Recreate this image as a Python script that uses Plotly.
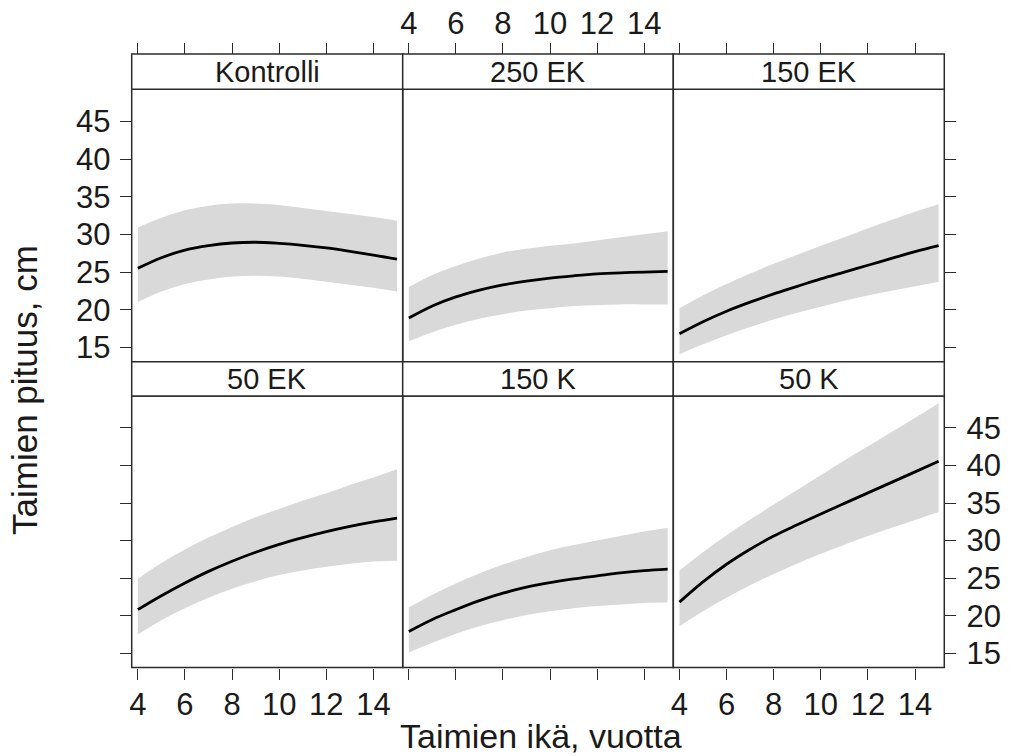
import plotly.graph_objects as go

# ---------------- data ----------------
ages = [4, 5, 6, 7, 8, 9, 10, 11, 12, 13, 14, 15]
panels = ["Kontrolli", "250 EK", "150 EK", "50 EK", "150 K", "50 K"]

kontrolli_fit = [25.5, 26.9, 27.9, 28.5, 28.85, 28.95, 28.8, 28.55, 28.2, 27.75, 27.25, 26.7]
kontrolli_hi = [30.9, 32.2, 33.2, 33.8, 34.1, 34.1, 33.9, 33.5, 33.1, 32.7, 32.3, 31.8]
kontrolli_lo = [21.0, 22.4, 23.4, 24.0, 24.4, 24.5, 24.4, 24.1, 23.7, 23.3, 22.9, 22.4]

ek250_fit = [18.9, 20.5, 21.7, 22.6, 23.3, 23.8, 24.2, 24.5, 24.75, 24.9, 25.0, 25.1]
ek250_hi = [23.0, 24.6, 25.8, 26.8, 27.6, 28.1, 28.5, 28.8, 29.2, 29.6, 30.0, 30.4]
ek250_lo = [15.8, 17.0, 18.0, 18.8, 19.4, 19.9, 20.2, 20.5, 20.6, 20.7, 20.7, 20.7]

ek150_fit = [16.8, 18.4, 19.8, 21.0, 22.1, 23.1, 24.1, 25.0, 25.9, 26.8, 27.7, 28.5]
ek150_hi = [20.2, 21.9, 23.4, 24.8, 26.1, 27.3, 28.5, 29.6, 30.8, 31.9, 33.0, 34.0]
ek150_lo = [14.1, 15.4, 16.6, 17.7, 18.7, 19.6, 20.4, 21.2, 21.9, 22.5, 23.1, 23.7]

ek50_fit = [20.8, 22.65, 24.35, 25.9, 27.25, 28.45, 29.5, 30.4, 31.2, 31.9, 32.5, 33.0]
ek50_hi = [24.9, 27.0, 28.8, 30.4, 31.8, 33.1, 34.2, 35.3, 36.3, 37.4, 38.4, 39.5]
ek50_lo = [17.5, 19.4, 21.0, 22.4, 23.6, 24.6, 25.4, 26.0, 26.5, 26.9, 27.2, 27.3]

k150_fit = [17.9, 19.5, 20.8, 22.0, 23.0, 23.8, 24.4, 24.9, 25.3, 25.7, 26.0, 26.2]
k150_hi = [21.1, 22.8, 24.3, 25.6, 26.8, 27.8, 28.7, 29.4, 30.0, 30.6, 31.2, 31.7]
k150_lo = [15.1, 16.4, 17.6, 18.6, 19.4, 20.1, 20.6, 21.0, 21.3, 21.5, 21.7, 21.75]

k50_fit = [21.8, 24.5, 26.85, 28.85, 30.6, 32.1, 33.55, 34.95, 36.35, 37.75, 39.15, 40.55]
k50_hi = [26.0, 28.45, 30.7, 32.8, 34.8, 36.75, 38.7, 40.65, 42.55, 44.45, 46.35, 48.3]
k50_lo = [18.6, 20.6, 22.4, 24.05, 25.55, 26.95, 28.25, 29.45, 30.6, 31.7, 32.75, 33.8]

x_ticks = [4, 6, 8, 10, 12, 14]
y_ticks = [15, 20, 25, 30, 35, 40, 45]
x_title = "Taimien ikä, vuotta"
y_title = "Taimien pituus, cm"

series = [
    (kontrolli_fit, kontrolli_lo, kontrolli_hi),
    (ek250_fit, ek250_lo, ek250_hi),
    (ek150_fit, ek150_lo, ek150_hi),
    (ek50_fit, ek50_lo, ek50_hi),
    (k150_fit, k150_lo, k150_hi),
    (k50_fit, k50_lo, k50_hi),
]

# ---------------- layout geometry (pixels) ----------------
W, H = 1012, 756
col_edges = [131.7, 402.7, 673.3, 944.3]
rows = [  # (strip_top, panel_top, panel_bottom)
    (54.0, 89.3, 361.7),
    (361.7, 396.0, 667.5),
]
XR = [3.74, 15.24]
YR = [13.1, 49.25]

FONT = "Liberation Sans, Arial, Helvetica, sans-serif"
INK = "#1a1a1a"
LINEC = "#2b2b2b"
BAND = "#d9d9d9"
TICKFONT = dict(size=31, family=FONT, color=INK)

def px(x):
    return x / W

def py(y):
    return 1 - y / H

fig = go.Figure()
layout = dict(
    width=W, height=H,
    margin=dict(l=0, r=0, t=0, b=0, autoexpand=False),
    paper_bgcolor="white", plot_bgcolor="white",
    showlegend=False,
    font=dict(family=FONT, color=INK),
)
shapes = []
annotations = []

for i, (name, (fit, lo, hi)) in enumerate(zip(panels, series)):
    r, c = divmod(i, 3)
    k = i + 1
    xa = "x" if k == 1 else f"x{k}"
    ya = "y" if k == 1 else f"y{k}"
    strip_top, ptop, pbot = rows[r]
    x0, x1 = col_edges[c], col_edges[c + 1]

    fig.add_trace(go.Scatter(x=ages, y=lo, mode="lines", line=dict(width=0, shape="spline", smoothing=1.0),
                             xaxis=xa, yaxis=ya, hoverinfo="skip"))
    fig.add_trace(go.Scatter(x=ages, y=hi, mode="lines", fill="tonexty", fillcolor=BAND,
                             line=dict(width=0, shape="spline", smoothing=1.0),
                             xaxis=xa, yaxis=ya, hoverinfo="skip"))
    fig.add_trace(go.Scatter(x=ages, y=fit, mode="lines",
                             line=dict(color="black", width=2.8, shape="spline", smoothing=1.0),
                             xaxis=xa, yaxis=ya))

    xkey = "xaxis" if k == 1 else f"xaxis{k}"
    ykey = "yaxis" if k == 1 else f"yaxis{k}"
    xax = dict(domain=[px(x0), px(x1)], range=XR, showgrid=False, zeroline=False,
               showline=False, tickvals=x_ticks, ticktext=[str(v) for v in x_ticks],
               ticks="outside", ticklen=11, tickwidth=1.4, tickcolor=LINEC,
               tickfont=TICKFONT, fixedrange=True, automargin=False)
    if r == 0:
        xax.update(side="top", anchor="free", position=py(strip_top), showticklabels=(c == 1),
                   ticklabelstandoff=-3)
    else:
        xax.update(side="bottom", anchor=ya, showticklabels=(c != 1), ticklabelstandoff=-2)
    yax = dict(domain=[py(pbot), py(ptop)], range=YR, showgrid=False, zeroline=False,
               showline=False, tickvals=y_ticks, anchor=xa,
               tickfont=TICKFONT, fixedrange=True, automargin=False)
    if c == 0:
        yax.update(side="left", ticks="outside", ticklen=11, tickwidth=1.4, tickcolor=LINEC,
                   showticklabels=(r == 0), ticklabelstandoff=3)
    elif c == 2:
        yax.update(side="right", ticks="outside", ticklen=11, tickwidth=1.4, tickcolor=LINEC,
                   showticklabels=(r == 1), ticklabelstandoff=4)
    else:
        yax.update(ticks="", showticklabels=False)
    layout[xkey] = xax
    layout[ykey] = yax

    # panel border
    shapes.append(dict(type="rect", xref="paper", yref="paper",
                       x0=px(x0), x1=px(x1), y0=py(pbot), y1=py(ptop),
                       line=dict(color=LINEC, width=1.5), fillcolor="rgba(0,0,0,0)", layer="above"))
    # strip
    shapes.append(dict(type="rect", xref="paper", yref="paper",
                       x0=px(x0), x1=px(x1), y0=py(ptop), y1=py(strip_top),
                       line=dict(color=LINEC, width=1.5), fillcolor="white", layer="above"))
    annotations.append(dict(text=name, xref="paper", yref="paper",
                            x=px((x0 + x1) / 2), y=py((strip_top + ptop) / 2),
                            xanchor="center", yanchor="middle", showarrow=False,
                            font=dict(size=29, family=FONT, color=INK)))

annotations.append(dict(text=x_title, xref="paper", yref="paper", x=px(541), y=py(736),
                        xanchor="center", yanchor="middle", showarrow=False,
                        font=dict(size=34, family=FONT, color=INK)))
annotations.append(dict(text=y_title, xref="paper", yref="paper", x=px(24), y=py(390),
                        xanchor="center", yanchor="middle", showarrow=False, textangle=-90,
                        font=dict(size=35, family=FONT, color=INK)))

layout["shapes"] = shapes
layout["annotations"] = annotations
fig.update_layout(**layout)
fig.write_html("out.html", config={"displayModeBar": False},
               post_script="document.body.style.margin='0';document.body.style.padding='0';")
